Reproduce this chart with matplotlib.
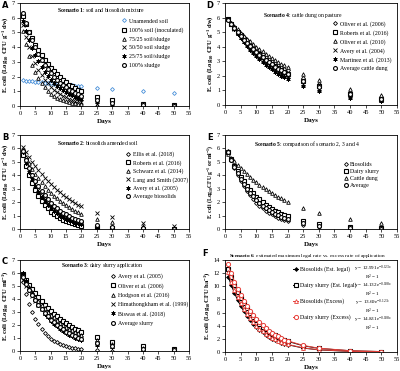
import matplotlib.pyplot as plt

plt.rcParams['font.family'] = ['Liberation Serif', 'DejaVu Serif']
plt.rcParams['mathtext.fontset'] = 'custom'
plt.rcParams['mathtext.rm'] = 'Liberation Serif'
plt.rcParams['mathtext.bf'] = 'Liberation Serif:bold'
plt.rcParams['mathtext.it'] = 'Liberation Serif:italic'

days = list(range(1, 21)) + [25, 30, 40, 50]

# Scenario 1: soil and biosolids mixture
a_unamended = [1.75, 1.73, 1.70, 1.68, 1.66, 1.63, 1.61, 1.59, 1.56, 1.54, 1.52, 1.50,
               1.48, 1.46, 1.44, 1.42, 1.40, 1.38, 1.36, 1.34, 1.25, 1.16, 1.00, 0.86]
a_soil100 = [6.10, 5.55, 5.04, 4.59, 4.17, 3.79, 3.45, 3.14, 2.85, 2.59, 2.36, 2.15,
             1.95, 1.78, 1.61, 1.46, 1.34, 1.21, 1.10, 1.01, 0.62, 0.39, 0.15, 0.06]
a_7525 = [5.10, 4.18, 3.42, 2.80, 2.29, 1.88, 1.54, 1.26, 1.03, 0.84, 0.69, 0.57,
          0.46, 0.38, 0.31, 0.26, 0.21, 0.17, 0.14, 0.11, 0.04, 0.02, 0.00, 0.00]
a_5050 = [5.50, 4.69, 3.99, 3.40, 2.90, 2.47, 2.11, 1.79, 1.53, 1.30, 1.11, 0.95,
          0.81, 0.69, 0.58, 0.50, 0.42, 0.36, 0.31, 0.26, 0.12, 0.05, 0.01, 0.00]
a_2575 = [5.80, 5.09, 4.47, 3.93, 3.45, 3.03, 2.66, 2.34, 2.05, 1.80, 1.58, 1.39,
          1.22, 1.07, 0.94, 0.82, 0.73, 0.64, 0.56, 0.49, 0.26, 0.13, 0.04, 0.01]
a_sludge100 = [6.30, 5.61, 5.01, 4.46, 3.98, 3.54, 3.16, 2.82, 2.51, 2.24, 2.00, 1.78,
               1.59, 1.41, 1.26, 1.12, 1.00, 0.89, 0.79, 0.71, 0.40, 0.22, 0.07, 0.02]

# Scenario 2: biosolids amended soil
b_ellis = [5.90, 5.18, 4.55, 3.99, 3.51, 3.08, 2.70, 2.38, 2.08, 1.83, 1.61, 1.41,
           1.24, 1.09, 0.96, 0.84, 0.74, 0.65, 0.57, 0.50, 0.26, 0.14, 0.04, 0.01]
b_roberts = [5.50, 4.69, 3.99, 3.40, 2.90, 2.47, 2.11, 1.79, 1.53, 1.30, 1.11, 0.95,
             0.81, 0.69, 0.58, 0.50, 0.42, 0.36, 0.31, 0.26, 0.12, 0.05, 0.01, 0.00]
b_schwarz = [5.80, 5.33, 4.89, 4.50, 4.13, 3.79, 3.48, 3.20, 2.94, 2.70, 2.48, 2.28,
             2.09, 1.92, 1.76, 1.62, 1.49, 1.37, 1.26, 1.15, 0.75, 0.49, 0.21, 0.09]
b_lang = [6.10, 5.70, 5.34, 4.99, 4.67, 4.36, 4.08, 3.82, 3.57, 3.34, 3.12, 2.92,
          2.73, 2.56, 2.39, 2.23, 2.09, 1.95, 1.82, 1.71, 1.22, 0.87, 0.45, 0.23]
b_avery = [5.70, 4.93, 4.26, 3.69, 3.19, 2.76, 2.39, 2.06, 1.78, 1.54, 1.34, 1.16,
           1.00, 0.87, 0.75, 0.65, 0.56, 0.48, 0.42, 0.36, 0.18, 0.09, 0.02, 0.00]
b_average = [5.80, 5.14, 4.56, 4.05, 3.59, 3.18, 2.82, 2.51, 2.22, 1.97, 1.75, 1.55,
             1.37, 1.22, 1.08, 0.96, 0.85, 0.75, 0.67, 0.59, 0.32, 0.18, 0.05, 0.02]

# Scenario 3: dairy slurry application
c_avery = [5.30, 4.38, 3.63, 3.00, 2.48, 2.05, 1.70, 1.40, 1.16, 0.96, 0.80, 0.66,
           0.54, 0.45, 0.37, 0.31, 0.25, 0.21, 0.17, 0.14, 0.06, 0.02, 0.00, 0.00]
c_oliver = [5.90, 5.49, 5.11, 4.76, 4.43, 4.12, 3.83, 3.56, 3.32, 3.09, 2.87, 2.67,
            2.48, 2.31, 2.15, 2.01, 1.86, 1.73, 1.62, 1.50, 1.05, 0.73, 0.35, 0.17]
c_hodgson = [5.80, 5.35, 4.93, 4.55, 4.19, 3.87, 3.57, 3.29, 3.03, 2.80, 2.58, 2.38,
             2.19, 2.02, 1.86, 1.72, 1.58, 1.46, 1.35, 1.25, 0.83, 0.55, 0.24, 0.11]
c_hima = [5.50, 5.03, 4.59, 4.20, 3.84, 3.51, 3.21, 2.93, 2.68, 2.45, 2.24, 2.05,
          1.87, 1.71, 1.56, 1.42, 1.30, 1.19, 1.09, 1.00, 0.63, 0.41, 0.16, 0.07]
c_biswas = [6.00, 5.40, 4.87, 4.38, 3.94, 3.55, 3.20, 2.88, 2.59, 2.33, 2.10, 1.89,
            1.70, 1.53, 1.38, 1.24, 1.12, 1.01, 0.91, 0.82, 0.48, 0.29, 0.10, 0.03]
c_average = [5.70, 5.18, 4.71, 4.29, 3.90, 3.55, 3.23, 2.93, 2.67, 2.42, 2.21, 2.01,
             1.82, 1.66, 1.50, 1.37, 1.25, 1.13, 1.03, 0.94, 0.58, 0.36, 0.14, 0.05]

# Scenario 4: cattle dung on pasture
d_oliver06 = [5.90, 5.62, 5.36, 5.11, 4.87, 4.64, 4.43, 4.22, 4.02, 3.83, 3.65, 3.48,
              3.32, 3.16, 3.01, 2.87, 2.74, 2.61, 2.48, 2.37, 1.86, 1.47, 0.91, 0.56]
d_roberts = [5.90, 5.59, 5.30, 5.03, 4.77, 4.53, 4.30, 4.07, 3.86, 3.66, 3.48, 3.29,
             3.12, 2.96, 2.81, 2.66, 2.53, 2.40, 2.27, 2.15, 1.65, 1.27, 0.75, 0.44]
d_oliver10 = [5.90, 5.65, 5.42, 5.19, 4.97, 4.76, 4.56, 4.37, 4.18, 4.01, 3.84, 3.68,
              3.52, 3.37, 3.23, 3.10, 2.97, 2.84, 2.72, 2.61, 2.10, 1.69, 1.10, 0.72]
d_avery = [5.90, 5.57, 5.25, 4.96, 4.68, 4.41, 4.17, 3.93, 3.71, 3.50, 3.30, 3.12,
           2.94, 2.77, 2.62, 2.47, 2.33, 2.20, 2.08, 1.96, 1.47, 1.10, 0.61, 0.34]
d_martinez = [5.90, 5.54, 5.20, 4.89, 4.59, 4.31, 4.04, 3.79, 3.56, 3.35, 3.14, 2.95,
              2.77, 2.60, 2.44, 2.29, 2.15, 2.02, 1.90, 1.78, 1.30, 0.95, 0.51, 0.27]
d_average = [5.85, 5.55, 5.26, 4.99, 4.73, 4.49, 4.26, 4.04, 3.83, 3.63, 3.45, 3.26,
             3.09, 2.94, 2.78, 2.64, 2.50, 2.38, 2.25, 2.14, 1.64, 1.26, 0.74, 0.43]

# Scenario 5: comparison of scenario 2, 3 and 4
e_biosolids = [5.80, 5.14, 4.56, 4.05, 3.59, 3.18, 2.82, 2.51, 2.22, 1.97, 1.75, 1.55,
               1.37, 1.22, 1.08, 0.96, 0.85, 0.75, 0.67, 0.59, 0.32, 0.18, 0.05, 0.02]
e_slurry = [5.70, 5.18, 4.71, 4.29, 3.90, 3.55, 3.23, 2.93, 2.67, 2.42, 2.21, 2.01,
            1.82, 1.66, 1.50, 1.37, 1.25, 1.13, 1.03, 0.94, 0.58, 0.36, 0.14, 0.05]
e_dung = [5.60, 5.31, 5.03, 4.78, 4.53, 4.30, 4.08, 3.86, 3.66, 3.48, 3.30, 3.12,
          2.96, 2.81, 2.67, 2.53, 2.40, 2.28, 2.16, 2.04, 1.57, 1.20, 0.71, 0.41]
e_average = [5.75, 5.16, 4.63, 4.16, 3.73, 3.35, 3.01, 2.70, 2.43, 2.17, 1.96, 1.75,
             1.58, 1.41, 1.27, 1.14, 1.02, 0.91, 0.82, 0.74, 0.43, 0.25, 0.09, 0.03]

# Scenario 6: estimated maximum legal rate vs. excess rate of application
f_bio_legal = [11.48, 10.16, 8.98, 7.94, 7.03, 6.21, 5.50, 4.86, 4.30, 3.79, 3.35, 2.97,
               2.62, 2.33, 2.05, 1.82, 1.61, 1.42, 1.25, 1.11, 0.60, 0.32, 0.09, 0.03]
f_slurry_legal = [12.69, 11.39, 10.22, 9.17, 8.24, 7.39, 6.64, 5.96, 5.34, 4.80, 4.31, 3.87,
                  3.48, 3.11, 2.80, 2.52, 2.25, 2.02, 1.81, 1.63, 0.95, 0.55, 0.19, 0.06]
f_bio_excess = [12.10, 10.71, 9.46, 8.36, 7.41, 6.54, 5.79, 5.12, 4.53, 4.00, 3.53, 3.13,
                2.77, 2.45, 2.16, 1.92, 1.70, 1.49, 1.32, 1.17, 0.63, 0.34, 0.10, 0.03]
f_slurry_excess = [13.32, 11.95, 10.72, 9.63, 8.65, 7.76, 6.97, 6.26, 5.61, 5.04, 4.52, 4.06,
                   3.65, 3.26, 2.94, 2.64, 2.36, 2.12, 1.90, 1.71, 1.00, 0.58, 0.20, 0.07]
f_equations = ['y = 12.991e$^{-0.123x}$\nR$^{2}$ = 1', 'y = 14.132e$^{-0.108x}$\nR$^{2}$ = 1',
               'y = 13.69e$^{-0.123x}$\nR$^{2}$ = 1', 'y = 14.831e$^{-0.108x}$\nR$^{2}$ = 1']

BLUE = '#4a90d9'
RED = '#e8403a'

DIA = dict(marker='D', ms=2.0, mfc='white', mec='k', mew=0.6)
SQ = dict(marker='s', ms=2.8, mfc='white', mec='k', mew=0.8)
TRI = dict(marker='^', ms=2.6, mfc='white', mec='k', mew=0.6)
XX = dict(marker='x', ms=2.6, mec='k', mew=0.6)
AST = dict(marker=(6, 2, 0), ms=3.0, mec='k', mew=0.6)
CIR = dict(marker='o', ms=2.8, mfc='white', mec='k', mew=0.8)

fig = plt.figure(figsize=(4.0, 3.71), dpi=100)
W, H = 400, 371


def axes_px(x0, top, x1, bottom):
    return fig.add_axes([x0 / W, (H - bottom) / H, (x1 - x0) / W, (bottom - top) / H])


def panel(ax, letter, title, ylabel, series, ymax, ystep, tx, ty, lx, ly, lsp, ylsize=4.8):
    for vals, lab, st in series:
        ax.plot(days, vals, ls='none', label=lab, **st)
    ax.set_xlim(0, 55)
    ax.set_ylim(0, ymax)
    ax.set_xticks(range(0, 56, 5))
    ax.set_yticks(range(0, ymax + 1, ystep))
    ax.tick_params(labelsize=4.6, length=2, width=0.5, pad=1.5)
    for s in ax.spines.values():
        s.set_linewidth(0.6)
    ax.set_xlabel('Days', fontsize=5, fontweight='bold', labelpad=2)
    ax.set_ylabel(ylabel, fontsize=ylsize, fontweight='bold', labelpad=1.5)
    ax.text(tx, ty, title, transform=ax.transAxes, fontsize=4.1, ha='center', va='center')
    bb = ax.get_position()
    hpx = bb.height * H
    wpx = bb.width * W
    leg = ax.legend(loc='upper left', bbox_to_anchor=(lx - 2.4 / wpx, ly + 3.5 / hpx),
                    frameon=False, fontsize=4.2, handlelength=0.9, handletextpad=0.35,
                    labelspacing=lsp, borderpad=0, borderaxespad=0)
    pos = ax.get_position()
    fig.text(pos.x0 - 15 / W, pos.y1 - 2 / H, letter, fontsize=6, fontweight='bold',
             family='DejaVu Sans', ha='center', va='center')
    return leg


axA = axes_px(20, 3, 189, 106)
axB = axes_px(20, 135, 189, 229)
axC = axes_px(20, 260, 189, 351)
axD = axes_px(225, 3, 397, 105)
axE = axes_px(225, 135, 397, 229)
axF = axes_px(225, 260, 397, 352)

yl_dw = r'E. coli (Log$_{\mathbf{10}}$ CFU g$^{\mathbf{-1}}$ dw)'

panel(axA, 'A', r'$\mathbf{Scenario\ 1}$: soil and biosolids mixture', yl_dw,
      [(a_unamended, 'Unamended soil', dict(marker='D', ms=2.0, mfc='white', mec=BLUE, mew=0.6)),
       (a_soil100, '100% soil (inoculated)', SQ),
       (a_7525, '75/25 soil/sludge', TRI),
       (a_5050, '50/50 soil sludge', XX),
       (a_2575, '25/75 soil/sludge', AST),
       (a_sludge100, '100% sludge', CIR)],
      7, 1, 0.48, 0.93, 0.615, 0.816, 0.62)

panel(axB, 'B', r'$\mathbf{Scenario\ 2}$: biosolids amended soil', yl_dw,
      [(b_ellis, 'Ellis et al. (2018)', DIA),
       (b_roberts, 'Roberts et al. (2016)', SQ),
       (b_schwarz, 'Schwarz et al. (2014)', TRI),
       (b_lang, 'Lang and Smith (2007)', XX),
       (b_avery, 'Avery et al. (2005)', AST),
       (b_average, 'Average biosolids', CIR)],
      7, 1, 0.46, 0.915, 0.64, 0.787, 0.45)

panel(axC, 'C', r'$\mathbf{Scenario\ 3}$: dairy slurry application',
      r'E. coli (Log$_{\mathbf{10}}$ CFU ml$^{\mathbf{-1}}$)',
      [(c_avery, 'Avery et al. (2005)', DIA),
       (c_oliver, 'Oliver et al. (2006)', SQ),
       (c_hodgson, 'Hodgson et al. (2016)', TRI),
       (c_hima, 'Himathongkham et al. (1999)', XX),
       (c_biswas, 'Biswas et al. (2018)', AST),
       (c_average, 'Average slurry', CIR)],
      7, 1, 0.485, 0.945, 0.55, 0.813, 0.62)

panel(axD, 'D', r'$\mathbf{Scenario\ 4}$: cattle dung on pasture', yl_dw,
      [(d_oliver06, 'Oliver et al. (2006)', DIA),
       (d_roberts, 'Roberts et al. (2016)', SQ),
       (d_oliver10, 'Oliver et al. (2010)', TRI),
       (d_avery, 'Avery et al. (2004)', XX),
       (d_martinez, 'Martinez et al. (2013)', AST),
       (d_average, 'Average cattle dung', CIR)],
      7, 1, 0.45, 0.88, 0.64, 0.79, 0.55)

panel(axE, 'E', r'$\mathbf{Scenario\ 5}$: comparison of scenario 2, 3 and 4',
      r'E. coli (Log$_{\mathbf{10}}$CFU g$^{\mathbf{-1}}$ or ml$^{\mathbf{-1}}$)',
      [(e_biosolids, 'Biosolids', DIA),
       (e_slurry, 'Dairy slurry', SQ),
       (e_dung, 'Cattle dung', TRI),
       (e_average, 'Average', CIR)],
      7, 1, 0.475, 0.90, 0.70, 0.68, 0.35, ylsize=4.1)

# panel F: markers with connecting lines
f_series = [(f_bio_legal, 'Biosolids (Est. legal)', 'k',
             dict(marker='D', ms=2.0, mfc='k', mec='k', mew=0.5)),
            (f_slurry_legal, 'Dairy slurry (Est. legal)', 'k',
             dict(marker='s', ms=2.8, mfc='white', mec='k', mew=0.8)),
            (f_bio_excess, 'Biosolids (Excess)', RED,
             dict(marker='^', ms=2.8, mfc='white', mec=RED, mew=0.6)),
            (f_slurry_excess, 'Dairy slurry (Excess)', RED,
             dict(marker='o', ms=3.0, mfc='white', mec=RED, mew=0.7))]
for vals, lab, col, st in f_series:
    axF.plot(days, vals, color=col, lw=0.7, label=lab, **st)
axF.set_xlim(0, 55)
axF.set_ylim(0, 14)
axF.set_xticks(range(0, 56, 5))
axF.set_yticks(range(0, 15, 2))
axF.tick_params(labelsize=4.6, length=2, width=0.5, pad=1.5)
for s in axF.spines.values():
    s.set_linewidth(0.6)
axF.set_xlabel('Days', fontsize=5, fontweight='bold', labelpad=2)
axF.set_ylabel(r'E. coli (Log$_{\mathbf{10}}$CFU ha$^{\mathbf{-1}}$)', fontsize=4.8,
               fontweight='bold', labelpad=1.5)
axF.text(0.48, 1.045, r'$\mathbf{Scenario\ 6}$: estimated maximum legal rate vs. excess rate of application',
         transform=axF.transAxes, fontsize=3.9, ha='center', va='center')
hF = 92
axF.legend(loc='upper left', bbox_to_anchor=(0.41 - 2.4 / 172, 0.89 + 3.5 / hF),
           frameon=False, fontsize=4.2, handlelength=0.9, handletextpad=0.35,
           labelspacing=1.75, borderpad=0, borderaxespad=0)
for i, eq in enumerate(f_equations):
    axF.text(0.86, 0.86 - i * 0.185, eq, transform=axF.transAxes, fontsize=3.7,
             ha='center', va='center', multialignment='center', linespacing=0.8)
fig.text(205 / W, 1 - 253 / H, 'F', fontsize=6, fontweight='bold', family='DejaVu Sans',
         ha='center', va='center')

fig.savefig('out.png', dpi=100)
